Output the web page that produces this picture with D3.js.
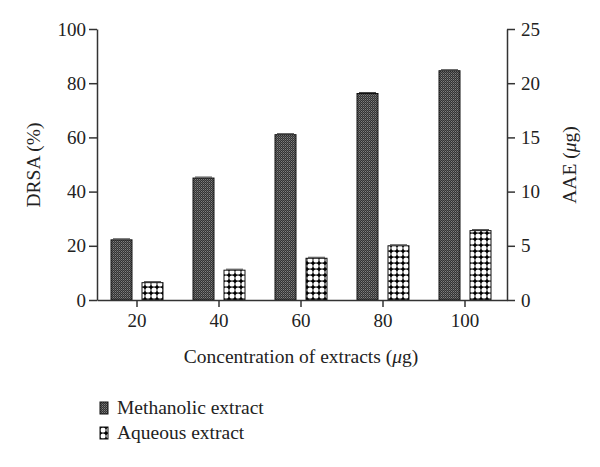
<!DOCTYPE html>
<html>
<head>
<meta charset="utf-8">
<script src="https://cdn.jsdelivr.net/npm/d3@7"></script>
<style>
    body { margin: 0; background: #fff; }
    text { font-family: "Liberation Serif", "DejaVu Serif", serif; fill: #222; }
</style>
</head>
<body>
<script>
// chart values
const concentrations = ["20", "40", "60", "80", "100"];
const methanolic = [22.2, 45, 61, 76.2, 84.6];   // DRSA (%), left axis
const aqueous = [1.6, 2.75, 3.85, 5.0, 6.4];     // AAE (ug), right axis
const leftTicks = [0, 20, 40, 60, 80, 100];
const rightTicks = [0, 5, 10, 15, 20, 25];
const legendLabels = ["Methanolic extract", "Aqueous extract"];

const width = 600, height = 467;
const margin = { top: 29, right: 93, bottom: 167, left: 97 };
const w = width - margin.left - margin.right;
const h = height - margin.top - margin.bottom;
const fontTick = "19px", fontTitle = "19.5px";

let svg = d3.select("body").append("svg")
    .attr("width", width)
    .attr("height", height);

// fill patterns
let defs = svg.append("defs");
let pm = defs.append("pattern")
    .attr("id", "meth")
    .attr("width", 2).attr("height", 2)
    .attr("patternUnits", "userSpaceOnUse");
pm.append("rect").attr("width", 2).attr("height", 2).attr("fill", "#333");
pm.append("rect").attr("width", 1).attr("height", 1).attr("fill", "#808080");
pm.append("rect").attr("x", 1).attr("y", 1).attr("width", 1).attr("height", 1).attr("fill", "#5c5c5c");

let pa = defs.append("pattern")
    .attr("id", "aq")
    .attr("width", 6).attr("height", 6)
    .attr("patternUnits", "userSpaceOnUse");
pa.append("rect").attr("width", 6).attr("height", 6).attr("fill", "#000");
pa.append("circle").attr("cx", 3).attr("cy", 3).attr("r", 2.6).attr("fill", "#fff");

let g = svg.append("g")
    .attr("transform", "translate(" + margin.left + "," + margin.top + ")");

let x = d3.scaleBand()
    .domain(concentrations)
    .range([0, w]);

let yL = d3.scaleLinear().domain([0, 100]).range([h, 0]);
let yR = d3.scaleLinear().domain([0, 25]).range([h, 0]);

const barW = 21;
const gap = 10;
const mid = c => x(c) + x.bandwidth() / 2 - 1;

// methanolic bars
g.selectAll(".mbar")
    .data(methanolic)
    .enter().append("rect")
    .attr("class", "mbar")
    .attr("x", (d, i) => mid(concentrations[i]) - barW - gap / 2)
    .attr("y", d => yL(d))
    .attr("width", barW)
    .attr("height", d => h - yL(d))
    .attr("fill", "url(#meth)")
    .attr("stroke", "#111")
    .attr("stroke-width", 1);

// aqueous bars
g.selectAll(".abar")
    .data(aqueous)
    .enter().append("rect")
    .attr("class", "abar")
    .attr("x", (d, i) => mid(concentrations[i]) + gap / 2)
    .attr("y", d => yR(d))
    .attr("width", barW)
    .attr("height", d => h - yR(d))
    .attr("fill", "url(#aq)")
    .attr("stroke", "#111")
    .attr("stroke-width", 1);

// tiny error caps
g.selectAll(".mcap")
    .data(methanolic)
    .enter().append("line")
    .attr("x1", (d, i) => mid(concentrations[i]) - barW - gap / 2 + 2)
    .attr("x2", (d, i) => mid(concentrations[i]) - gap / 2 - 2)
    .attr("y1", d => yL(d) - 1).attr("y2", d => yL(d) - 1)
    .attr("stroke", "#444");
g.selectAll(".acap")
    .data(aqueous)
    .enter().append("line")
    .attr("x1", (d, i) => mid(concentrations[i]) + gap / 2 + 2)
    .attr("x2", (d, i) => mid(concentrations[i]) + gap / 2 + barW - 2)
    .attr("y1", d => yR(d) - 1).attr("y2", d => yR(d) - 1)
    .attr("stroke", "#444");

// axes
function styleAxis(sel) {
    sel.selectAll("path, line").attr("stroke", "#333").attr("stroke-width", 1.5);
    sel.selectAll("text").attr("font-size", fontTick).attr("fill", "#222")
        .style("font-family", "'Liberation Serif', 'DejaVu Serif', serif");
}

g.append("g")
    .attr("class", "x axis")
    .attr("transform", "translate(0," + h + ")")
    .call(d3.axisBottom(x).tickSize(7).tickSizeOuter(0).tickPadding(7))
    .call(styleAxis)
    .call(s => s.selectAll(".tick").attr("transform", d => "translate(" + mid(d) + ",0)"));

g.append("g")
    .attr("class", "y axis")
    .call(d3.axisLeft(yL).tickValues(leftTicks).tickSize(8).tickSizeOuter(0).tickPadding(3))
    .call(styleAxis);

g.append("g")
    .attr("class", "y2 axis")
    .attr("transform", "translate(" + w + ",0)")
    .call(d3.axisRight(yR).tickValues(rightTicks).tickSize(8).tickSizeOuter(0).tickPadding(6))
    .call(styleAxis);

// axis titles
svg.append("text")
    .attr("x", margin.left + w / 2 - 1)
    .attr("y", 363)
    .attr("text-anchor", "middle")
    .attr("font-size", fontTitle)
    .html("Concentration of extracts (<tspan font-style='italic'>μ</tspan>g)");

svg.append("text")
    .attr("transform", "translate(40,165) rotate(-90)")
    .attr("text-anchor", "middle")
    .attr("font-size", fontTitle)
    .text("DRSA (%)");

svg.append("text")
    .attr("transform", "translate(576,165) rotate(-90)")
    .attr("text-anchor", "middle")
    .attr("font-size", fontTitle)
    .html("AAE (<tspan font-style='italic'>μ</tspan>g)");

// legend
let legend = svg.append("g").attr("transform", "translate(100,402)");
let items = legend.selectAll(".item")
    .data(legendLabels)
    .enter().append("g")
    .attr("transform", (d, i) => "translate(0," + i * 25 + ")");
items.append("rect")
    .attr("width", 8).attr("height", 12)
    .attr("fill", (d, i) => i === 0 ? "url(#meth)" : "url(#aq)")
    .attr("stroke", "#111");
items.append("text")
    .attr("x", 17)
    .attr("y", 12)
    .attr("font-size", fontTitle)
    .text(d => d);
</script>
</body>
</html>
